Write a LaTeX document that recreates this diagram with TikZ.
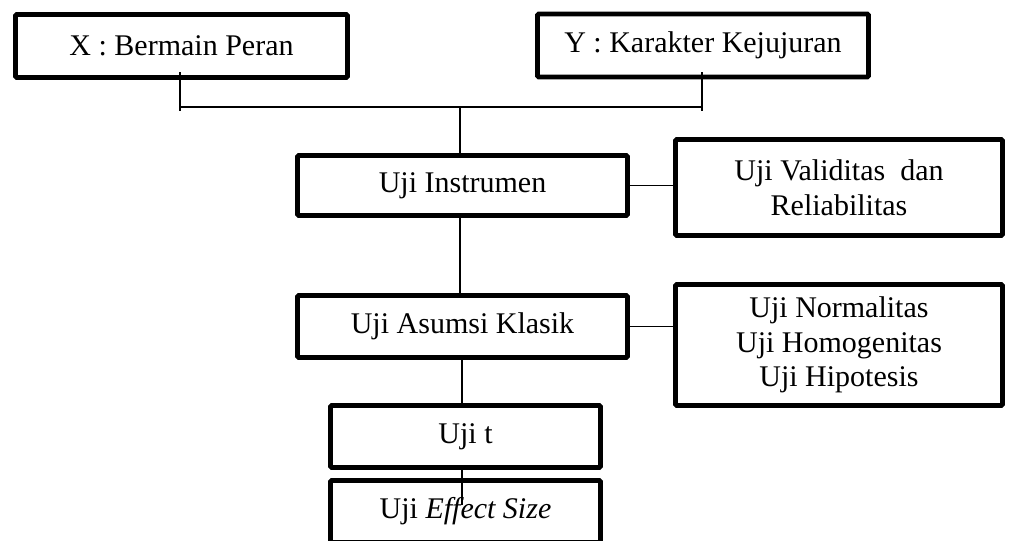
\documentclass[tikz,border=0pt]{standalone}
\usepackage{fontspec}
\setmainfont{Liberation Serif}
\usepackage{tikz}

\begin{document}
\begin{tikzpicture}[x=0.75pt,y=-0.75pt,
    box/.style={draw,line width=3.6pt,rounded corners=1pt,align=center,inner sep=0pt,
        font=\fontsize{22.5}{26}\selectfont},
    link/.style={line width=1.4pt}]
    \useasboundingbox (0,0) rectangle (1009,540);
    \clip (0,0) rectangle (1009,540);

    % Variables
    \node[box,minimum width=249pt,minimum height=47.25pt] (varx) at (181.5,46) {X : Bermain Peran};
    \node[box,minimum width=248.25pt,minimum height=47.25pt] (vary) at (703,45.5) {Y : Karakter Kejujuran};

    % Bracket joining both variables
    \coordinate (xa) at (180,72);
    \coordinate (xb) at (180,111);
    \coordinate (ya) at (702,72);
    \coordinate (yb) at (702,111);
    \coordinate (xm) at (180,107);
    \coordinate (ym) at (702,107);
    \coordinate (mid) at (460,107);
    \draw[link] (xa) -- (xb);
    \draw[link] (ya) -- (yb);
    \draw[link] (xm) -- (ym);

    % Steps of the analysis
    \node[box,minimum width=247.5pt,minimum height=45pt] (instr) at (462.5,185.5) {Uji Instrumen};
    \node[box,minimum width=245.25pt,minimum height=72pt] (valid) at (839,187.5) {Uji Validitas\ \ dan\\Reliabilitas};
    \node[box,minimum width=247.5pt,minimum height=46.5pt] (asumsi) at (462.5,326.5) {Uji Asumsi Klasik};
    \node[box,minimum width=245.25pt,minimum height=90.75pt] (normal) at (839,345) {Uji Normalitas\\Uji Homogenitas\\Uji Hipotesis};
    \node[box,minimum width=202.5pt,minimum height=46.5pt] (ujit) at (465.5,436.5) {Uji t};
    \node[box,minimum width=202.5pt,minimum height=46.5pt] (effect) at (465.5,511.5) {Uji \textit{Effect Size}};

    % Connectors
    \coordinate (ia) at (460,213);
    \coordinate (ta) at (462,505);
    \draw[link] (mid) -- (mid |- instr.north);
    \draw[link] (ia) -- (ia |- asumsi.north);
    \draw[link] (instr.east) -- (valid.west |- instr.east);
    \draw[link] (asumsi.east) -- (normal.west |- asumsi.east);
    \draw[link] (asumsi.south -| ta) -- (ujit.north -| ta);
    \draw[link] (ujit.south -| ta) -- (ta);
\end{tikzpicture}
\end{document}
